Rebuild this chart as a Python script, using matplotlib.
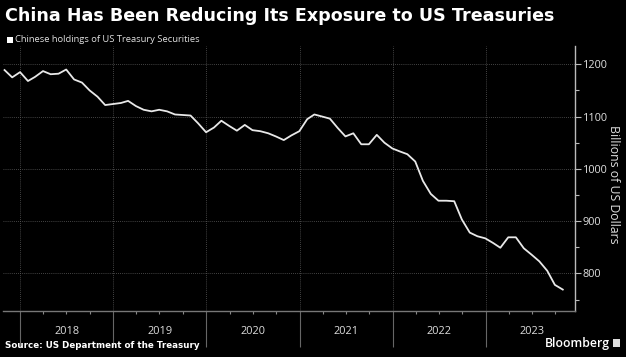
import matplotlib
matplotlib.use("Agg")
import matplotlib.pyplot as plt
import matplotlib.dates as mdates
import matplotlib.transforms as mtransforms
import pandas as pd
import numpy as np

# ---- data ----
start_month = "2017-10"
holdings = [
    1189, 1175, 1185,                                                 # Oct-Dec 2017
    1168, 1176, 1187, 1181, 1182, 1190, 1171, 1165, 1150, 1138, 1122, 1124,  # 2018
    1126, 1130, 1120, 1113, 1110, 1113, 1110, 1104, 1103, 1102, 1087, 1070,  # 2019
    1079, 1092, 1082, 1073, 1084, 1074, 1072, 1068, 1062, 1055, 1064, 1072,  # 2020
    1095, 1104, 1100, 1096, 1078, 1062, 1068, 1047, 1047, 1065, 1050, 1039,  # 2021
    1033, 1028, 1014, 977, 952, 939, 939, 938, 903, 878, 871, 867,           # 2022
    858, 849, 869, 869, 848, 836, 823, 805, 778, 769,                         # 2023
]
year_labels = ["2018", "2019", "2020", "2021", "2022", "2023"]
y_ticks = [800, 900, 1000, 1100, 1200]

title = "China Has Been Reducing Its Exposure to US Treasuries"
legend_label = "Chinese holdings of US Treasury Securities"
y_label = "Billions of US Dollars"
source = "Source: US Department of the Treasury"

dates = pd.date_range(start_month, periods=len(holdings), freq="ME")

SANS = "Open Sans"

# ---- figure ----
W, H = 626, 357
fig = plt.figure(figsize=(W / 100, H / 100), dpi=100, facecolor="black")
ax = fig.add_axes([3 / W, 1 - 311 / H, (575 - 3) / W, (311 - 46) / H], facecolor="black")

ax.plot(dates, holdings, color="#e8e8e8", lw=1.3, solid_joinstyle="round")

ax.set_xlim(pd.Timestamp("2017-10-25"), pd.Timestamp("2023-12-18"))
ax.set_ylim(728, 1235)

# y axis on right
ax.yaxis.tick_right()
ax.set_yticks(y_ticks)
ax.set_yticklabels([str(v) for v in y_ticks], family=SANS)
ax.set_yticks(np.arange(750, 1250, 100), minor=True)
ax.tick_params(axis="y", which="major", colors="#bbbbbb", labelcolor="#e0e0e0",
               length=4, width=0.8, labelsize=7.8, pad=1.5)
ax.tick_params(axis="y", which="minor", colors="#bbbbbb", length=3, width=0.8)
fig.text(614 / W, 1 - 184 / H, y_label, color="#e0e0e0", fontsize=8.8, rotation=-90,
         ha="center", va="center", family=SANS)

# x axis
ax.xaxis.set_major_locator(mdates.YearLocator())
ax.xaxis.set_minor_locator(mdates.MonthLocator(bymonth=[4, 7, 10]))
ax.xaxis.set_major_formatter(plt.NullFormatter())
ax.tick_params(axis="x", which="major", colors="#666666", length=26, width=0.8)
ax.tick_params(axis="x", which="minor", colors="#888888", length=2, width=0.8)

trans = mtransforms.blended_transform_factory(ax.transData, fig.transFigure)
for lbl in year_labels:
    mid = pd.Timestamp(f"{lbl}-07-02")
    ax.text(mid, 1 - 332 / H, lbl, transform=trans, ha="center", va="center",
            color="#dddddd", fontsize=7.9, family=SANS)

ax.grid(True, which="major", color="#5a5a5a", lw=0.6, ls=(0, (1, 1.5)))

for s in ["top", "left"]:
    ax.spines[s].set_visible(False)
ax.spines["right"].set_color("#bbbbbb")
ax.spines["right"].set_linewidth(1.0)
ax.spines["bottom"].set_color("#777777")
ax.spines["bottom"].set_linewidth(1.0)

# texts
fig.text(5 / W, 1 - 16 / H, title, color="white", fontsize=12.6, fontweight="bold",
         ha="left", va="center", family="DejaVu Sans")
fig.patches.append(plt.Rectangle((7 / W, 1 - 43 / H), 6 / W, 6 / H, transform=fig.transFigure,
                                 facecolor="white", edgecolor="none"))
fig.text(15 / W, 1 - 40 / H, legend_label, color="#e0e0e0", fontsize=6.75,
         ha="left", va="center", family=SANS)
fig.text(5 / W, 1 - 345 / H, source, color="white", fontsize=6.3, fontweight="bold",
         ha="left", va="center", family="DejaVu Sans")
fig.text(610 / W, 1 - 343 / H, "Bloomberg", color="white", fontsize=8.8, fontweight="semibold",
         ha="right", va="center", family=SANS)
fig.patches.append(plt.Rectangle((613 / W, 1 - 347 / H), 7 / W, 8 / H, transform=fig.transFigure,
                                 facecolor="#dddddd", edgecolor="none"))

fig.savefig("out.png", dpi=100, facecolor="black")
